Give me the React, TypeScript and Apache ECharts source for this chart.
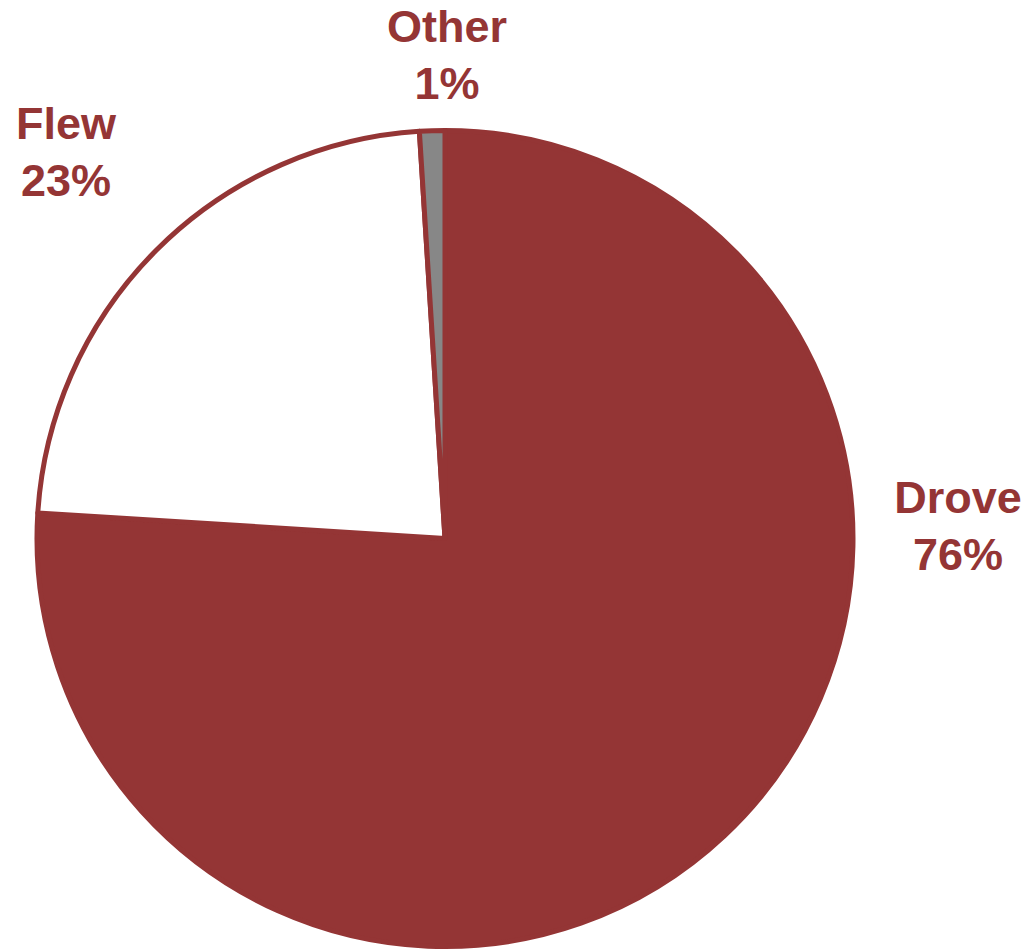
import React, { useEffect, useRef } from "react";
import * as echarts from "echarts";

const categories = ["Drove", "Flew", "Other"];
const values = [76, 23, 1];
const sliceColors = ["#943535", "#ffffff", "#878787"];
const labelPositions: Record<string, [number, number]> = {
  Drove: [958, 526],
  Flew: [66, 152],
  Other: [447, 55],
};

export default function App() {
  const ref = useRef<HTMLDivElement>(null);
  useEffect(() => {
    document.body.style.margin = "0";
    const chart = echarts.init(ref.current!, null, { renderer: "svg" });
    chart.setOption({
      animation: false,
      backgroundColor: "#ffffff",
      series: [
        {
          type: "pie",
          center: [445, 538.5],
          radius: [0, 408],
          startAngle: 90,
          clockwise: true,
          avoidLabelOverlap: false,
          labelLine: { show: false },
          itemStyle: { borderColor: "#943535", borderWidth: 5 },
          emphasis: { disabled: true },
          label: {
            show: true,
            position: "outside",
            formatter: "{b}\n{d}%",
            color: "#943535",
            fontFamily: "'Liberation Sans', Arial, sans-serif",
            fontWeight: "bold",
            fontSize: 45,
            lineHeight: 57,
            align: "center",
          },
          labelLayout: (params: any) => {
            const name = categories[params.dataIndex];
            const p = labelPositions[name];
            return { x: p[0], y: p[1], align: "center", verticalAlign: "middle" };
          },
          data: categories.map((c, i) => ({
            name: c,
            value: values[i],
            itemStyle: { color: sliceColors[i] },
          })),
        },
      ],
    });
    return () => chart.dispose();
  }, []);
  return <div ref={ref} style={{ width: 1029, height: 952 }} />;
}
